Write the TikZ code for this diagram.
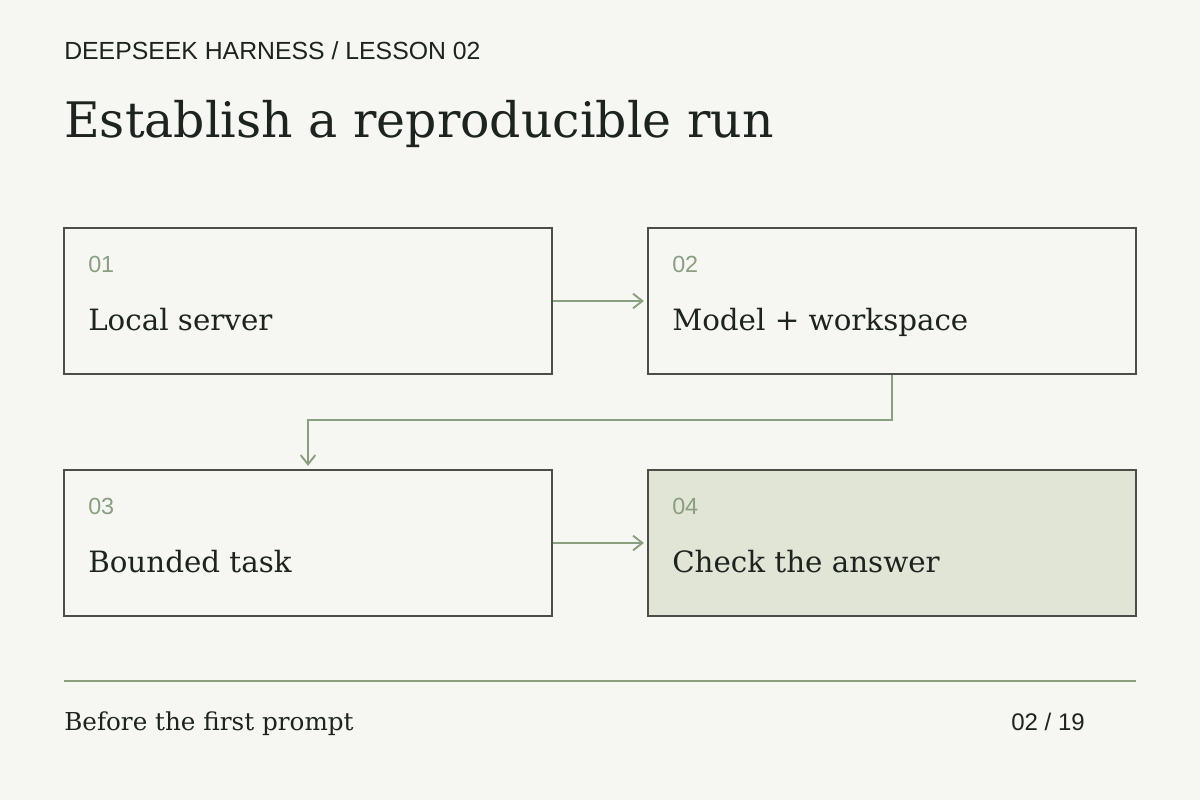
\documentclass[tikz,border=0pt]{standalone}
\usepackage{fontspec}
\setmainfont{DejaVu Serif}
\setsansfont{Liberation Sans}
\usetikzlibrary{arrows.meta}
\definecolor{paper}{HTML}{F6F7F2}
\definecolor{ink}{HTML}{1D241F}
\definecolor{frame}{HTML}{4A4D48}
\definecolor{sage}{HTML}{8A9E80}
\definecolor{moss}{HTML}{E1E5D6}
\begin{document}
\begin{tikzpicture}[x=0.75pt,y=-0.75pt,
  step box/.style={draw=frame,line width=1.2pt,fill=paper,minimum width=366pt,minimum height=109.5pt,inner sep=0pt},
  step num/.style={anchor=base west,inner sep=0pt,text=sage,font=\sffamily\fontsize{17.5}{19}\selectfont},
  step text/.style={anchor=base west,inner sep=0pt,text=ink,font=\fontsize{22}{26}\selectfont},
  flow/.style={draw=sage,line width=1.4pt,shorten >=2.5pt,-{Straight Barb[length=7pt,width=11pt]}}]

  \fill[paper] (0,0) rectangle (1200,800);

  \node[anchor=base west,inner sep=0pt,text=ink,font=\sffamily\fontsize{18.6}{20}\selectfont] (head) at (64,59) {DEEPSEEK HARNESS / LESSON 02};
  \node[anchor=base west,inner sep=0pt,text=ink,font=\fontsize{36.7}{42}\selectfont] (title) at (64,137) {Establish a reproducible run};

  \node[step box] (1) at (308,301) {};
  \node[step box] (2) at (892,301) {};
  \node[step box] (3) at (308,543) {};
  \node[step box,fill=moss] (4) at (892,543) {};

  \node[step num] (n1) at (88,272) {01};
  \node[step text] (t1) at (88,330) {Local server};
  \node[step num] (n2) at (672,272) {02};
  \node[step text] (t2) at (672,330) {Model + workspace};
  \node[step num] (n3) at (88,514) {03};
  \node[step text] (t3) at (88,572) {Bounded task};
  \node[step num] (n4) at (672,514) {04};
  \node[step text] (t4) at (672,572) {Check the answer};

  \draw[flow] (1) -- (2);
  \draw[flow] (2.south) -- ++(0,45) -| (3.north);
  \draw[flow] (3) -- (4);

  \draw[sage,line width=1.2pt] (64,681) coordinate (r1) -- (1136,681) coordinate (r2);
  \node[anchor=base west,inner sep=0pt,text=ink,font=\fontsize{18.5}{21}\selectfont] (foot) at (64,730) {Before the first prompt};
  \node[anchor=base east,inner sep=0pt,text=ink,font=\sffamily\fontsize{18}{20}\selectfont] (page) at (1085,730) {02 / 19};
\end{tikzpicture}
\end{document}
